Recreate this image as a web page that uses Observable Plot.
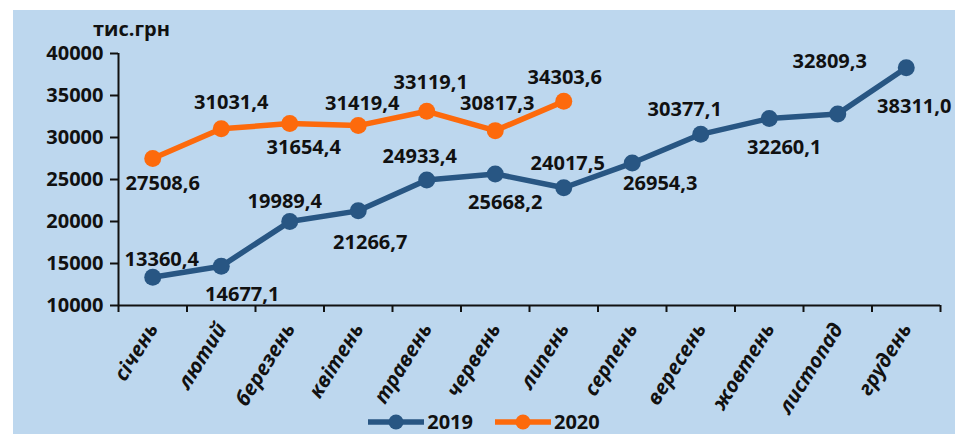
<!DOCTYPE html>
<html>
<head>
<meta charset="utf-8">
<script src="https://cdn.jsdelivr.net/npm/d3@7"></script>
<script src="https://cdn.jsdelivr.net/npm/@observablehq/plot@0.6"></script>
<style>
  html, body { margin: 0; padding: 0; background: #ffffff; }
  body { width: 958px; height: 434px; position: relative; overflow: hidden; font-family: "Open Sans", sans-serif; }
  #panel { position: absolute; left: 13px; top: 10px; width: 942px; height: 424px; background: #bdd7ee; overflow: hidden; }
  #chart { position: absolute; left: 0; top: 0; }
  #unit { position: absolute; left: 80px; top: 9px; font-size: 20px; line-height: 20px; font-weight: 700; color: #111; }
  #legend { position: absolute; left: 0; width: 942px; top: 401px; display: flex; justify-content: center; gap: 22px; font-size: 20px; font-weight: 700; color: #111; line-height: 22px; }
  .item { display: flex; align-items: center; gap: 3px; }
</style>
</head>
<body>
<div id="panel">
  <div id="chart"></div>
  <div id="unit">тис.грн</div>
  <div id="legend"></div>
</div>
<script>
const months = ["січень","лютий","березень","квітень","травень","червень","липень","серпень","вересень","жовтень","листопад","грудень"];
const values2019 = [13360.4, 14677.1, 19989.4, 21266.7, 24933.4, 25668.2, 24017.5, 26954.3, 30377.1, 32260.1, 32809.3, 38311.0];
const values2020 = [27508.6, 31031.4, 31654.4, 31419.4, 33119.1, 30817.3, 34303.6];
const yTicks = [10000, 15000, 20000, 25000, 30000, 35000, 40000];
const seriesNames = ["2019", "2020"];

// label placement (layout, pixels)
const labelOffset2019 = [[9,-18],[21,28],[-5,-20],[12,32],[-7,-23],[10,29],[4,-24],[28,21],[-16,-25],[15,29],[-8,-52],[8,39]];
const labelOffset2020 = [[10,25],[10,-26],[14,24],[4,-22],[4,-29],[2,-27],[1,-24]];

const colors = {"2019": "#285683", "2020": "#fd6a0c"};

const rows2019 = values2019.map((v, i) => ({i, month: months[i], value: v, series: "2019"}));
const rows2020 = values2020.map((v, i) => ({i, month: months[i], value: v, series: "2020"}));
const fmt = v => v.toFixed(1).replace(".", ",");
const xPos = d => d.i + 0.5;

function labelMarks(rows, offsets) {
  return rows.map((r, k) => Plot.text([r], {
    x: xPos, y: "value", text: d => fmt(d.value),
    dx: offsets[k][0], dy: offsets[k][1],
    fontSize: 20, fontWeight: 700, fill: "#111"
  }));
}

const chart = Plot.plot({
  width: 942,
  height: 424,
  marginLeft: 105,
  marginRight: 15,
  marginTop: 43,
  marginBottom: 129,
  style: {background: "transparent", fontFamily: "'Open Sans', sans-serif", fontSize: "20px", fontWeight: 700, color: "#111"},
  x: {type: "linear", domain: [0, 12]},
  y: {domain: [10000, 40000]},
  marks: [
    Plot.axisY({ticks: yTicks, tickSize: 8, tickPadding: 7, tickFormat: d => String(d), label: null, strokeWidth: 2, fontSize: 20, fontWeight: 700}),
    Plot.axisX({ticks: d3.range(13), tickSize: 7, tickFormat: () => "", label: null, strokeWidth: 2}),
    Plot.text(months.map((m, i) => ({i, month: m})), {
      x: xPos, frameAnchor: "bottom", text: "month", rotate: -58, textAnchor: "end",
      dx: 6, dy: 23, fontSize: 20.5, fontWeight: 700, fontStyle: "italic", fill: "#111"
    }),
    Plot.ruleX([0], {y1: 10000, y2: 40000, stroke: "#111", strokeWidth: 2}),
    Plot.ruleY([10000], {x1: 0, x2: 12, stroke: "#111", strokeWidth: 2}),
    Plot.line(rows2019, {x: xPos, y: "value", stroke: colors["2019"], strokeWidth: 5.5}),
    Plot.dot(rows2019, {x: xPos, y: "value", r: 8.5, fill: colors["2019"]}),
    Plot.line(rows2020, {x: xPos, y: "value", stroke: colors["2020"], strokeWidth: 5.5}),
    Plot.dot(rows2020, {x: xPos, y: "value", r: 8.5, fill: colors["2020"]}),
    ...labelMarks(rows2019, labelOffset2019),
    ...labelMarks(rows2020, labelOffset2020)
  ]
});
document.getElementById("chart").appendChild(chart);

const legend = document.getElementById("legend");
seriesNames.forEach(name => {
  const item = document.createElement("div");
  item.className = "item";
  item.innerHTML = `<svg width="56" height="20"><line x1="0" y1="10" x2="56" y2="10" stroke="${colors[name]}" stroke-width="5.5" stroke-linecap="round"/><circle cx="28" cy="10" r="7.5" fill="${colors[name]}"/></svg><span>${name}</span>`;
  legend.appendChild(item);
});
</script>
</body>
</html>
